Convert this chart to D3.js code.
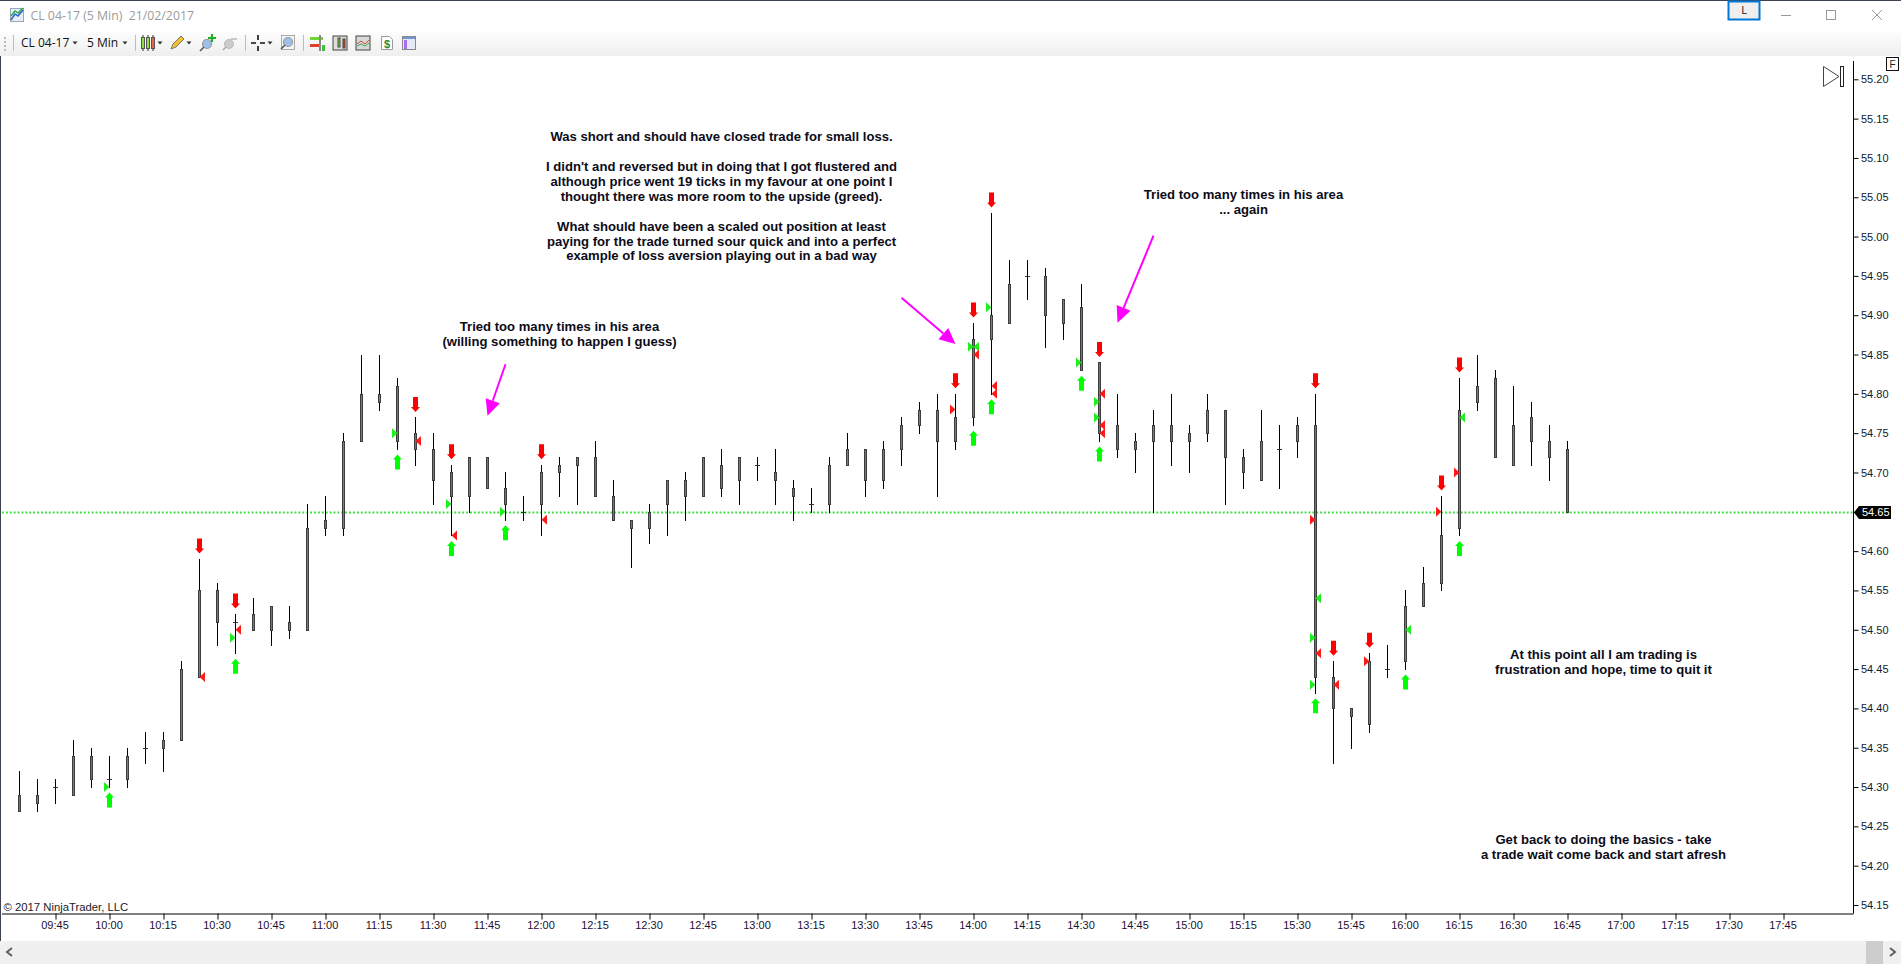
<!DOCTYPE html>
<html><head><meta charset="utf-8">
<script src="https://cdn.jsdelivr.net/npm/d3@7/dist/d3.min.js"></script>
<style>
html,body{margin:0;padding:0;background:#fff;overflow:hidden}
svg{display:block}
text{font-family:"Liberation Sans",Arial,sans-serif}
</style></head><body>
<svg id="c" width="1901" height="964"></svg>
<script>
// ---------- data ----------
const barTimes=["09:35","09:40","09:45","09:50","09:55","10:00","10:05","10:10","10:15","10:20","10:25","10:30","10:35","10:40","10:45","10:50","10:55","11:00","11:05","11:10","11:15","11:20","11:25","11:30","11:35","11:40","11:45","11:50","11:55","12:00","12:05","12:10","12:15","12:20","12:25","12:30","12:35","12:40","12:45","12:50","12:55","13:00","13:05","13:10","13:15","13:20","13:25","13:30","13:35","13:40","13:45","13:50","13:55","14:00","14:05","14:10","14:15","14:20","14:25","14:30","14:35","14:40","14:45","14:50","14:55","15:00","15:05","15:10","15:15","15:20","15:25","15:30","15:35","15:40","15:45","15:50","15:55","16:00","16:05","16:10","16:15","16:20","16:25","16:30","16:35","16:40","16:45"];
const opens=[54.29,54.28,54.30,54.29,54.34,54.31,54.31,54.35,54.35,54.36,54.44,54.55,54.51,54.50,54.53,54.51,54.50,54.64,54.63,54.74,54.79,54.81,54.75,54.73,54.70,54.67,54.72,54.68,54.65,54.66,54.70,54.71,54.72,54.67,54.64,54.63,54.66,54.69,54.67,54.71,54.69,54.71,54.70,54.68,54.66,54.66,54.71,54.73,54.69,54.73,54.76,54.78,54.74,54.77,54.87,54.89,54.95,54.95,54.89,54.91,54.84,54.76,54.74,54.74,54.76,54.74,54.75,54.78,54.72,54.69,54.73,54.74,54.76,54.44,54.40,54.38,54.45,54.46,54.53,54.56,54.63,54.79,54.82,54.71,54.77,54.74,54.73];
const highs=[54.32,54.31,54.31,54.36,54.35,54.34,54.35,54.37,54.37,54.46,54.59,54.56,54.52,54.54,54.53,54.53,54.66,54.67,54.75,54.85,54.85,54.82,54.77,54.75,54.71,54.72,54.72,54.70,54.67,54.71,54.72,54.72,54.74,54.69,54.64,54.66,54.69,54.70,54.72,54.73,54.72,54.72,54.73,54.69,54.68,54.72,54.75,54.73,54.74,54.77,54.79,54.80,54.80,54.89,55.03,54.97,54.97,54.96,54.92,54.94,54.84,54.80,54.75,54.78,54.80,54.76,54.80,54.78,54.73,54.78,54.76,54.77,54.80,54.46,54.40,54.47,54.48,54.55,54.58,54.67,54.82,54.85,54.83,54.81,54.79,54.76,54.74];
const lows=[54.27,54.27,54.28,54.29,54.30,54.30,54.30,54.33,54.32,54.36,54.44,54.48,54.47,54.50,54.48,54.49,54.50,54.62,54.62,54.74,54.78,54.73,54.71,54.66,54.62,54.65,54.68,54.64,54.64,54.62,54.67,54.66,54.67,54.64,54.58,54.61,54.62,54.64,54.67,54.67,54.66,54.69,54.66,54.64,54.65,54.65,54.71,54.67,54.68,54.71,54.75,54.67,54.73,54.76,54.80,54.89,54.92,54.86,54.87,54.83,54.74,54.72,54.70,54.65,54.71,54.70,54.74,54.66,54.68,54.69,54.68,54.72,54.42,54.33,54.35,54.37,54.44,54.45,54.53,54.55,54.62,54.78,54.72,54.71,54.71,54.69,54.65];
const closes=[54.27,54.29,54.30,54.34,54.31,54.31,54.34,54.35,54.36,54.45,54.55,54.51,54.51,54.52,54.50,54.50,54.63,54.63,54.74,54.80,54.80,54.74,54.73,54.69,54.67,54.72,54.68,54.66,54.65,54.70,54.71,54.72,54.67,54.64,54.63,54.65,54.69,54.67,54.72,54.68,54.72,54.71,54.69,54.67,54.66,54.71,54.73,54.69,54.73,54.76,54.78,54.74,54.77,54.87,54.90,54.94,54.95,54.90,54.92,54.83,54.75,54.73,54.73,54.76,54.74,54.75,54.78,54.72,54.70,54.74,54.73,54.76,54.44,54.40,54.39,54.46,54.45,54.53,54.56,54.62,54.78,54.81,54.72,54.76,54.74,54.72,54.65];
const lastPrice=54.65;
const priceTicks=[54.15,54.20,54.25,54.30,54.35,54.40,54.45,54.50,54.55,54.60,54.65,54.70,54.75,54.80,54.85,54.90,54.95,55.00,55.05,55.10,55.15,55.20];
const timeTicks=["09:45","10:00","10:15","10:30","10:45","11:00","11:15","11:30","11:45","12:00","12:15","12:30","12:45","13:00","13:15","13:30","13:45","14:00","14:15","14:30","14:45","15:00","15:15","15:30","15:45","16:00","16:15","16:30","16:45","17:00","17:15","17:30","17:45"];
const sellSignals=["10:25","10:35","11:25","11:35","12:00","13:55","14:00","14:05","14:35","15:35","15:40","15:50","16:10","16:15"];
const buySignals=["10:00","10:35","11:20","11:35","11:50","14:00","14:05","14:30","14:35","15:35","16:00","16:15"];
const buyFillTimes=["10:00","10:35","11:20","11:35","11:50","14:00","14:05","14:30","14:35","14:35","15:35","15:35"];
const buyFillPrices=[54.30,54.49,54.75,54.66,54.65,54.86,54.91,54.84,54.79,54.77,54.49,54.43];
const buyExitTimes=["14:00","15:35","16:00","16:15"];
const buyExitPrices=[54.86,54.54,54.50,54.77];
const sellExitTimes=["10:25","10:35","11:25","11:35","12:00","14:00","14:05","14:05","14:35","14:35","14:35","15:35","15:40"];
const sellExitPrices=[54.44,54.50,54.74,54.62,54.64,54.85,54.81,54.80,54.80,54.76,54.75,54.47,54.43];
const sellFillTimes=["13:55","15:35","15:50","16:10","16:15"];
const sellFillPrices=[54.78,54.64,54.46,54.65,54.70];
const noteTimes=["12:50","12:05","15:15","16:55","16:55"];
const notePrices=[55.1275,54.8854,55.0541,54.4683,54.2336];
const noteLines=[
 ["Was short and should have closed trade for small loss.","","I didn't and reversed but in doing that I got flustered and","although price went 19 ticks in my favour at one point I","thought there was more room to the upside (greed).","","What should have been a scaled out position at least","paying for the trade turned sour quick and into a perfect","example of loss aversion playing out in a bad way"],
 ["Tried too many times in his area","(willing something to happen I guess)"],
 ["Tried too many times in his area","... again"],
 ["At this point all I am trading is","frustration and hope, time to quit it"],
 ["Get back to doing the basics - take","a trade wait come back and start afresh"]];
const pointerFromTimes=["11:50","13:40","14:50"];
const pointerFromPrices=[54.8376,54.9223,55.0011];
const pointerToTimes=["11:45","13:55","14:40"];
const pointerToPrices=[54.772,54.8634,54.8905];

// ---------- scales ----------
const svg=d3.select("#c");
const T=s=>new Date(Date.UTC(2017,1,21,+s.slice(0,2),+s.slice(3)));
const x=d3.scaleUtc().domain([T("09:35"),T("18:10")]).range([19.5,19.5+18*103]);
const y=d3.scaleLinear().domain([54.15,55.20]).range([905,79.3]);
const Y=p=>Math.round(y(p))+.5;
const bars=barTimes.map((t,i)=>({t,o:opens[i],h:highs[i],l:lows[i],c:closes[i]}));
const barAt=t=>bars.find(b=>b.t===t);
const plotR=1853.5, plotB=913.5, plotT=61;

// ---------- window chrome ----------
const defs=svg.append("defs");
const g=defs.append("linearGradient").attr("id","tb").attr("x1",0).attr("x2",0).attr("y1",0).attr("y2",1);
g.append("stop").attr("offset",0).attr("stop-color","#fdfdfd");
g.append("stop").attr("offset",1).attr("stop-color","#efefef");
svg.append("rect").attr("width",1901).attr("height",964).attr("fill","#fff");
svg.append("rect").attr("y",31).attr("width",1901).attr("height",25).attr("fill","url(#tb)");
svg.append("rect").attr("width",1901).attr("height",1).attr("fill","#3c4450");
svg.append("rect").attr("y",56).attr("width",1).attr("height",908).attr("fill","#3c4450");
svg.append("rect").attr("y",941).attr("width",1901).attr("height",23).attr("fill","#f0f0f0");
svg.append("rect").attr("x",1866).attr("y",941).attr("width",17).attr("height",23).attr("fill","#cdcdcd");
const chevron=(d)=>svg.append("path").attr("d",d).attr("fill","none").attr("stroke","#606060").attr("stroke-width",2);
chevron("M12 948L7 952L12 956"); chevron("M1890 948L1895 952L1890 956");
const chromeText=(s,xp,yp,c,fs,fam)=>svg.append("text").attr("x",xp).attr("y",yp).attr("dy","0.35em").attr("fill",c).attr("font-size",fs).style("font-family",fam||"'Open Sans'").text(s);
chromeText("CL 04-17 (5 Min)  21/02/2017",30.5,15.5,"#9b9b9b","12.3px").attr("xml:space","preserve");
chromeText("CL 04-17",21,43,"#111","12px");
chromeText("5 Min",87,43,"#111","12px");
// toolbar glyphs
const tri=(cx,cy,c)=>svg.append("path").attr("d",`M${cx-2.5} ${cy-1.5}h5l-2.5 3z`).attr("fill",c||"#333");
tri(75,43);tri(125,43);tri(160,43);tri(189,43);tri(270,43);
const grip=svg.append("g");
[37,41,45,49].forEach(v=>grip.append("rect").attr("x",4).attr("y",v).attr("width",2).attr("height",2).attr("fill","#bbb"));
[13,135,245,303].forEach(v=>svg.append("rect").attr("x",v).attr("y",35).attr("width",1).attr("height",16).attr("fill","#bdbdbd"));
const box=(xp,yp,w,h,f,s)=>svg.append("rect").attr("x",xp).attr("y",yp).attr("width",w).attr("height",h).attr("fill",f).attr("stroke",s||"#444").attr("stroke-width",1);
// title icon
box(10.5,8.5,13,13,"#e8eef5","#9aa7b5");
svg.append("path").attr("d","M11 20L15 14L18 16L23 10").attr("fill","none").attr("stroke","#2a60c8").attr("stroke-width",1.5);
svg.append("path").attr("d","M11 16L15 11L18 13L23 8").attr("fill","none").attr("stroke","#2aa84a").attr("stroke-width",1.5);
// candle picker
[[141.5,"#8be04a"],[146.5,"#8be04a"],[151.5,"#f0604a"]].forEach(([v,c])=>{
  svg.append("line").attr("x1",v+1.5).attr("x2",v+1.5).attr("y1",35).attr("y2",51).attr("stroke","#333");
  box(v,37.5,3,11,c,"#555");
});
// pencil
svg.append("path").attr("d","M171 49L173 44L181 36L184 39L176 47Z").attr("fill","#f0c030").attr("stroke","#777");
// zoom-in, zoom-out
const lens=(cx,cy)=>{svg.append("circle").attr("cx",cx).attr("cy",cy).attr("r",4.5).attr("fill","#9cc0e8").attr("stroke","#999").attr("stroke-width",1.2);
 svg.append("line").attr("x1",cx-3).attr("y1",cy+3).attr("x2",cx-7).attr("y2",cy+7).attr("stroke","#555").attr("stroke-width",1.6);};
lens(207,44);
svg.append("path").attr("d","M212 34v8M208 38h8").attr("stroke","#22b022").attr("stroke-width",2.2);
svg.append("circle").attr("cx",229).attr("cy",44).attr("r",4.5).attr("fill","#ccc").attr("stroke","#bbb");
svg.append("line").attr("x1",226).attr("y1",47).attr("x2",223).attr("y2",50).attr("stroke","#aaa").attr("stroke-width",1.6);
svg.append("path").attr("d","M231 39h6").attr("stroke","#bbb").attr("stroke-width",1.6);
// crosshair
svg.append("path").attr("d","M258 35v5M258 46v5M251 43h5M260 43h5").attr("stroke","#111").attr("stroke-width",1.6);
box(281.5,35.5,13,14,"#f4f4f4","#aaa");lens(288,42);
// right group
svg.append("path").attr("d","M310 37h13v3h-13z").attr("fill","#6fd63a");
svg.append("path").attr("d","M310 44h11v3h-11z").attr("fill","#e0402a");
svg.append("rect").attr("x",319).attr("y",35).attr("width",2).attr("height",16).attr("fill","#888");
svg.append("rect").attr("x",322).attr("y",45).attr("width",3).attr("height",6).attr("fill","#3fbf3f");
box(333,36,14,14,"#ddd");box(338,38,2,9,"#6fd63a");box(343,39,2,9,"#e0402a");
box(356,36,14,14,"#d8d8d8");
svg.append("path").attr("d","M357 44L361 41L365 44L369 40").attr("fill","none").attr("stroke","#d04a3a");
svg.append("path").attr("d","M357 46L361 44L365 46L369 43").attr("fill","none").attr("stroke","#3fa65a");
svg.append("path").attr("d","M381.5 36.5h8l3 3v10h-11z").attr("fill","#fff").attr("stroke","#999");
chromeText("$",384,44,"#1f8a3c","11px","'Liberation Sans'").attr("font-weight","bold");
box(402.5,36.5,13,13,"#e4eaf6","#888");
svg.append("rect").attr("x",404).attr("y",40).attr("width",3).attr("height",9).attr("fill","#a86cf0");
svg.append("rect").attr("x",403).attr("y",37).attr("width",12).attr("height",2).attr("fill","#6f95d8");
// window buttons
svg.append("rect").attr("x",1728.5).attr("y",1.5).attr("width",31).attr("height",18).attr("fill","#efefef").attr("stroke","#0078d7").attr("stroke-width",2);
chromeText("L",1744,10,"#111","11px").attr("text-anchor","middle");
svg.append("line").attr("x1",1781).attr("x2",1791).attr("y1",15.5).attr("y2",15.5).attr("stroke","#999");
svg.append("rect").attr("x",1826.5).attr("y",10.5).attr("width",9).attr("height",9).attr("fill","none").attr("stroke","#999");
svg.append("path").attr("d","M1872 10L1882 20M1882 10L1872 20").attr("stroke","#999").attr("stroke-width",1);
// scroll-to-end + F box
svg.append("path").attr("d","M1823.5 66.5L1839 76.5L1823.5 86.5Z").attr("fill","#fff").attr("stroke","#444");
svg.append("rect").attr("x",1840.5).attr("y",66.5).attr("width",3).attr("height",20).attr("fill","#fff").attr("stroke","#222");
svg.append("rect").attr("x",1886.5).attr("y",57.5).attr("width",12).attr("height",13).attr("fill","#fff").attr("stroke","#111");
chromeText("F",1889.5,64.5,"#222","10px","'Liberation Sans'");

// ---------- last price line ----------
svg.append("line").attr("x1",2).attr("x2",plotR).attr("y1",Y(lastPrice)).attr("y2",Y(lastPrice))
  .attr("stroke","#3fdc3f").attr("stroke-width",2).attr("stroke-dasharray","1.9 2");

// ---------- axes ----------
const xAxis=d3.axisBottom(x).tickValues(timeTicks.map(T)).tickFormat(d3.utcFormat("%H:%M")).tickSize(6).tickPadding(2);
const gx=svg.append("g").attr("transform",`translate(0,${plotB})`).call(xAxis);
gx.select(".domain").attr("d",`M2 0.5H${plotR}`).attr("stroke","#000");
gx.selectAll("line").attr("stroke","#000");
gx.selectAll("text").attr("font-size","11px").attr("fill","#1d0f33").attr("dx","-1px").attr("font-family",null);
const yAxis=d3.axisRight(y).tickValues(priceTicks).tickFormat(d3.format(".2f")).tickSize(5).tickPadding(2.5);
const gy=svg.append("g").attr("transform",`translate(${plotR},0)`).call(yAxis);
gy.select(".domain").attr("d",`M0 ${plotT}V${plotB}`).attr("stroke","#000");
gy.selectAll("line").attr("stroke","#000");
gy.selectAll("text").attr("font-size","11px").attr("fill","#10202e").attr("font-family",null);
svg.append("text").attr("x",3.5).attr("y",907).attr("dy","0.35em").attr("font-size","11.3px").attr("fill","#1a1a2a").text("\u00A9 2017 NinjaTrader, LLC");

// ---------- candles ----------
const cg=svg.append("g");
cg.selectAll("line.w").data(bars).join("line").attr("class","w")
 .attr("x1",d=>x(T(d.t))).attr("x2",d=>x(T(d.t))).attr("y1",d=>Y(d.h)-.5).attr("y2",d=>Y(d.l)+.5).attr("stroke","#000");
cg.selectAll("rect.b").data(bars.filter(d=>d.o!==d.c)).join("rect").attr("class","b")
 .attr("x",d=>x(T(d.t))-1).attr("width",2)
 .attr("y",d=>Y(Math.max(d.o,d.c))).attr("height",d=>Y(Math.min(d.o,d.c))-Y(Math.max(d.o,d.c)))
 .attr("fill",d=>d.c>d.o?"#35b035":"#f04a14").attr("stroke","#3c3c3c");
cg.selectAll("line.d").data(bars.filter(d=>d.o===d.c)).join("line").attr("class","d")
 .attr("x1",d=>x(T(d.t))-2.5).attr("x2",d=>x(T(d.t))+2.5).attr("y1",d=>Y(d.o)).attr("y2",d=>Y(d.o)).attr("stroke","#333");

// ---------- signals ----------
const arrowPath=(cx,tip,dir)=>{const a=tip, b=tip+dir*5, c=tip+dir*15;
  return `M${cx} ${a}L${cx+4.5} ${b}H${cx+2.5}V${c}H${cx-2.5}V${b}H${cx-4.5}Z`;};
svg.append("g").selectAll("path").data(sellSignals).join("path")
 .attr("d",t=>arrowPath(x(T(t)),y(barAt(t).h)-5.5,-1)).attr("fill","#ff0000");
svg.append("g").selectAll("path").data(buySignals).join("path")
 .attr("d",t=>arrowPath(x(T(t)),y(barAt(t).l)+5.5,1)).attr("fill","#00ff00");
const flagLeft=(cx,cy)=>`M${cx-5.5} ${cy-5}L${cx} ${cy}L${cx-5.5} ${cy+5}Z`;
const flagRight=(cx,cy)=>`M${cx+5.5} ${cy-5}L${cx} ${cy}L${cx+5.5} ${cy+5}Z`;
const flags=(ts,ps,fn,c)=>svg.append("g").selectAll("path").data(ts.map((t,i)=>({t,p:ps[i]}))).join("path")
 .attr("d",d=>fn(x(T(d.t)),y(d.p))).attr("fill",c);
flags(buyFillTimes,buyFillPrices,flagLeft,"#1fee1f");
flags(buyExitTimes,buyExitPrices,flagRight,"#1fee1f");
flags(sellExitTimes,sellExitPrices,flagRight,"#ff1a1a");
flags(sellFillTimes,sellFillPrices,flagLeft,"#ff1a1a");

// ---------- pointers ----------
const pg=svg.append("g");
pointerFromTimes.forEach((t,i)=>{
  const x0=x(T(t)),y0=y(pointerFromPrices[i]),x1=x(T(pointerToTimes[i])),y1=y(pointerToPrices[i]);
  const a=Math.atan2(y1-y0,x1-x0),L=16,W=7.5;
  const bx=x1-L*Math.cos(a),by=y1-L*Math.sin(a),nx=-Math.sin(a),ny=Math.cos(a);
  pg.append("line").attr("x1",x0).attr("y1",y0).attr("x2",bx).attr("y2",by).attr("stroke","#ff00ff").attr("stroke-width",2);
  pg.append("path").attr("d",`M${x1} ${y1}L${bx+nx*W} ${by+ny*W}L${bx-nx*W} ${by-ny*W}Z`).attr("fill","#ff00ff");
});

// ---------- notes ----------
const ng=svg.append("g");
noteLines.forEach((lines,i)=>{
  const tx=ng.append("text").attr("text-anchor","middle").attr("font-weight","bold").attr("font-size","13.1px").attr("fill","#0c0c18");
  lines.forEach((s,k)=>tx.append("tspan").attr("x",x(T(noteTimes[i]))).attr("y",y(notePrices[i])+k*14.95).attr("dy","0.35em").text(s));
});

// ---------- last price tag ----------
const ly=Y(lastPrice);
svg.append("path").attr("d",`M${plotR+.5} ${ly}L${plotR+5.5} ${ly-6.5}H1891V${ly+6.5}H${plotR+5.5}Z`).attr("fill","#000");
svg.append("text").attr("x",1862).attr("y",ly).attr("dy","0.35em").attr("font-size","11px").attr("fill","#fff").text(d3.format(".2f")(lastPrice));
</script>
</body></html>
